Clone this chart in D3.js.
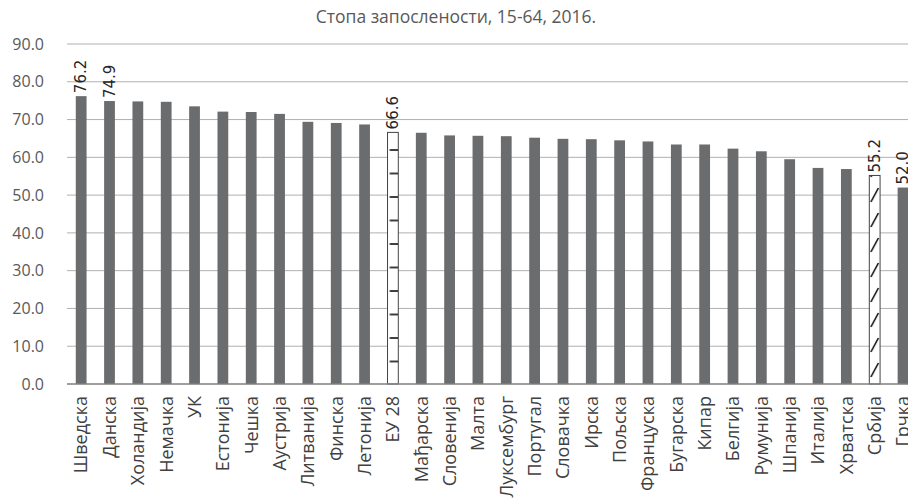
<!DOCTYPE html>
<html lang="sr">
<head>
<meta charset="UTF-8" />
<title>Стопа запослености</title>
<script src="https://d3js.org/d3.v7.min.js"></script>
<style>
  body { margin: 0; background: #fff; }
  .title { font-family: "Open Sans", sans-serif; font-size: 17.5px; fill: #595959; }
  .ytick text { font-family: "Open Sans", sans-serif; font-size: 16px; fill: #595959; }
  .xtick text { font-family: "Open Sans", sans-serif; font-size: 18px; fill: #404040; }
  .vlabel { font-family: "DejaVu Sans", sans-serif; font-size: 15px; fill: #262626; }
</style>
</head>
<body>
<script>
// подаци
const countries = ["Шведска", "Данска", "Холандија", "Немачка", "УК", "Естонија", "Чешка",
  "Аустрија", "Литванија", "Финска", "Летонија", "ЕУ 28", "Мађарска", "Словенија", "Малта",
  "Луксембург", "Португал", "Словачка", "Ирска", "Пољска", "Француска", "Бугарска", "Кипар",
  "Белгија", "Румунија", "Шпанија", "Италија", "Хрватска", "Србија", "Грчка"];
const rates = [76.2, 74.9, 74.8, 74.7, 73.5, 72.1, 72.0, 71.5, 69.4, 69.1, 68.7, 66.6, 66.5,
  65.8, 65.7, 65.6, 65.2, 64.9, 64.8, 64.5, 64.2, 63.4, 63.4, 62.3, 61.6, 59.5, 57.2, 56.9,
  55.2, 52.0];
const yTicks = [0, 10, 20, 30, 40, 50, 60, 70, 80, 90];
const labeled = ["Шведска", "Данска", "ЕУ 28", "Србија", "Грчка"];

const width = 908, height = 500;
const plotLeft = 67, plotTop = 44, plotBottom = 384;
const step = 28.34;

const data = countries.map((c, i) => ({ name: c, value: rates[i] }));

const x = d3.scaleBand()
  .domain(countries)
  .range([plotLeft, plotLeft + step * countries.length])
  .paddingInner(0.62)
  .paddingOuter(0.31);

const y = d3.scaleLinear().domain([0, 90]).range([plotBottom, plotTop]);

const svg = d3.select("body").append("svg")
  .attr("width", width)
  .attr("height", height);

const defs = svg.append("defs");

// шрафура за ЕУ 28 (хоризонталне црте)
const xe = x("ЕУ 28"), bw = x.bandwidth();
const pEu = defs.append("pattern")
  .attr("id", "eu")
  .attr("patternUnits", "userSpaceOnUse")
  .attr("x", xe).attr("y", plotBottom)
  .attr("width", bw).attr("height", 23.5);
pEu.append("rect").attr("width", bw).attr("height", 23.5).attr("fill", "#fff");
pEu.append("line")
  .attr("x1", bw * 0.2).attr("x2", bw)
  .attr("y1", 1).attr("y2", 1)
  .attr("stroke", "#000").attr("stroke-width", 1.5);

// шрафура за Србију (косе црте)
const xs = x("Србија");
const pRs = defs.append("pattern")
  .attr("id", "rs")
  .attr("patternUnits", "userSpaceOnUse")
  .attr("x", xs).attr("y", plotBottom)
  .attr("width", bw).attr("height", 25);
pRs.append("rect").attr("width", bw).attr("height", 25).attr("fill", "#fff");
pRs.append("line")
  .attr("x1", bw * 0.15).attr("y1", 18)
  .attr("x2", bw * 0.85).attr("y2", 4)
  .attr("stroke", "#000").attr("stroke-width", 1.5);

// наслов
svg.append("text")
  .attr("class", "title")
  .attr("x", 456).attr("y", 23)
  .attr("text-anchor", "middle")
  .text("Стопа запослености, 15-64, 2016.");

// мрежа
svg.append("g")
  .selectAll("line")
  .data(yTicks.filter(d => d > 0))
  .join("line")
  .attr("x1", plotLeft).attr("x2", width)
  .attr("y1", d => y(d)).attr("y2", d => y(d))
  .attr("stroke", "#b0b0b0").attr("stroke-width", 1);

// Y оса
const yAxis = svg.append("g")
  .attr("class", "ytick")
  .attr("transform", `translate(${plotLeft},0)`)
  .call(d3.axisLeft(y).tickValues(yTicks).tickFormat(d3.format(".1f")).tickSize(0).tickPadding(23));
yAxis.select(".domain").remove();

// стубици
svg.append("g")
  .selectAll("rect")
  .data(data)
  .join("rect")
  .attr("x", d => x(d.name))
  .attr("y", d => y(d.value))
  .attr("width", bw)
  .attr("height", d => y(0) - y(d.value))
  .attr("fill", d => d.name === "ЕУ 28" ? "url(#eu)" : d.name === "Србија" ? "url(#rs)" : "#6b6c6e")
  .attr("stroke", d => (d.name === "ЕУ 28" || d.name === "Србија") ? "#444" : "none")
  .attr("stroke-width", 1);

// основна линија
svg.append("line")
  .attr("x1", plotLeft).attr("x2", width)
  .attr("y1", y(0)).attr("y2", y(0))
  .attr("stroke", "#7f7f7f").attr("stroke-width", 1.5);

// X оса
const xAxis = svg.append("g")
  .attr("class", "xtick")
  .attr("transform", `translate(0,${plotBottom})`)
  .call(d3.axisBottom(x).tickSize(0).tickPadding(0));
xAxis.select(".domain").remove();
xAxis.selectAll("text")
  .attr("transform", "rotate(-90)")
  .attr("text-anchor", "end")
  .attr("x", -12)
  .attr("y", 0)
  .attr("dy", "0.35em");

// ознаке вредности
svg.append("g")
  .selectAll("text")
  .data(data.filter(d => labeled.includes(d.name)))
  .join("text")
  .attr("class", "vlabel")
  .attr("transform", d => `translate(${x(d.name) + bw / 2},${y(d.value) - 3}) rotate(-90)`)
  .attr("dy", "0.35em")
  .text(d => d.value.toFixed(1));
</script>
</body>
</html>
